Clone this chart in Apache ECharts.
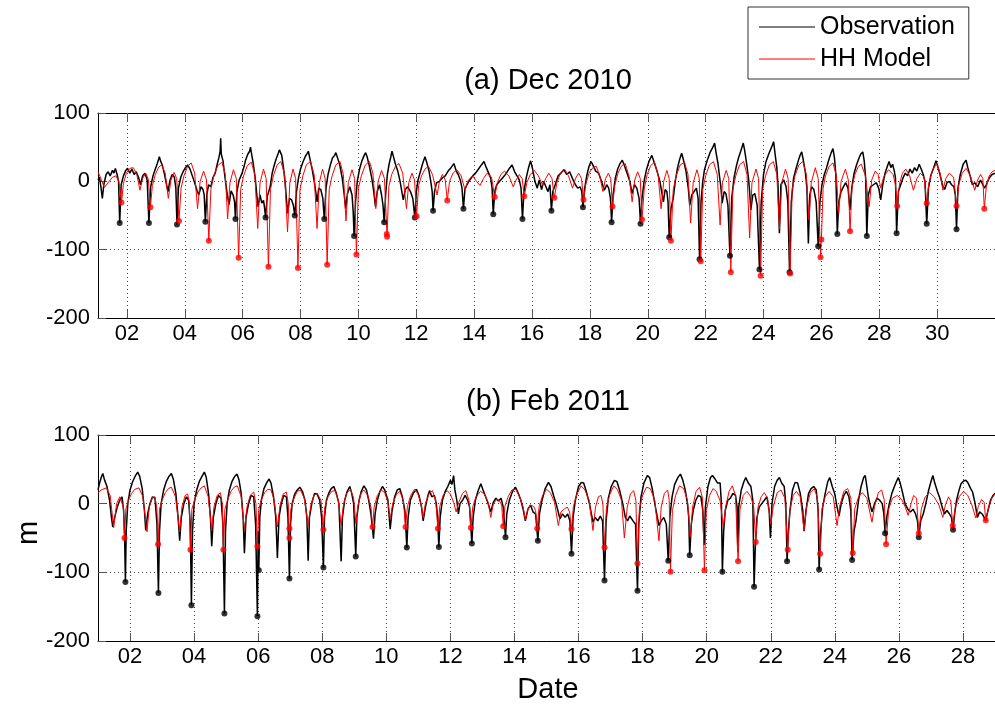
<!DOCTYPE html>
<html>
<head>
<meta charset="utf-8">
<script src="https://cdn.jsdelivr.net/npm/echarts@6/dist/echarts.min.js"></script>
<style>
html,body{margin:0;padding:0;background:#fff;}
#chart{width:995px;height:705px;}
</style>
</head>
<body>
<div id="chart"></div>
<script>
// ---------------- DATA ----------------
const decTicks = [2,4,6,8,10,12,14,16,18,20,22,24,26,28,30];
const febTicks = [2,4,6,8,10,12,14,16,18,20,22,24,26,28];
const yTicks = [-200,-100,0,100];

// Dec 2010 observation [day, m]
const decObs = [
[1.0,2],[1.05,6],[1.1,-8],[1.15,-25],[1.2,-5],[1.28,10],[1.35,14],[1.42,8],[1.5,16],[1.55,12],[1.6,19],[1.66,10],[1.71,0],[1.75,-61],
[1.8,-5],[1.88,8],[1.96,16],[2.02,19],[2.1,12],[2.17,18],[2.25,10],[2.32,14],[2.4,6],[2.47,-5],[2.54,8],[2.62,12],[2.7,2],[2.76,-61],
[2.82,-8],[2.9,8],[2.98,18],[3.05,26],[3.12,36],[3.16,30],[3.22,24],[3.3,10],[3.37,-5],[3.42,-15],[3.48,0],[3.56,10],[3.64,6],[3.69,-10],[3.73,-63],
[3.78,-10],[3.86,6],[3.94,14],[4.02,20],[4.1,24],[4.18,18],[4.26,8],[4.34,-2],[4.42,-13],[4.48,-20],[4.56,-8],[4.63,-12],[4.67,-20],[4.71,-59],
[4.76,-20],[4.82,-5],[4.9,-8],[4.97,5],[5.05,12],[5.12,25],[5.18,35],[5.22,44],[5.24,63],[5.26,40],[5.32,30],[5.4,2],[5.47,-20],[5.53,-34],[5.6,-14],[5.67,-20],[5.72,-30],[5.75,-55],
[5.8,-15],[5.88,2],[5.98,12],[6.05,22],[6.1,31],[6.18,40],[6.24,44],[6.27,50],[6.3,42],[6.37,25],[6.44,2],[6.5,-25],[6.53,-37],[6.6,-20],[6.66,-32],[6.72,-28],[6.76,-40],[6.79,-53],
[6.85,-22],[6.95,-8],[7.02,12],[7.08,22],[7.15,32],[7.22,40],[7.27,46],[7.3,48],[7.35,38],[7.41,20],[7.47,-3],[7.52,-30],[7.55,-47],[7.62,-25],[7.69,-27],[7.75,-35],[7.8,-50],
[7.86,-15],[7.93,5],[8.0,18],[8.08,28],[8.16,36],[8.23,41],[8.27,44],[8.32,34],[8.4,18],[8.48,-2],[8.54,-20],[8.57,-30],[8.63,-10],[8.7,-12],[8.77,-25],[8.82,-55],
[8.88,-10],[8.95,10],[9.03,24],[9.1,34],[9.18,38],[9.22,42],[9.27,40],[9.35,25],[9.44,5],[9.51,-20],[9.56,-40],[9.62,-18],[9.7,-8],[9.78,-20],[9.82,-45],[9.85,-80],
[9.9,-30],[9.96,0],[10.04,18],[10.12,30],[10.2,38],[10.25,42],[10.3,36],[10.38,22],[10.46,5],[10.53,-15],[10.59,-37],[10.65,-15],[10.73,-5],[10.8,-20],[10.85,-35],[10.89,-60],
[10.94,-20],[11.0,10],[11.06,25],[11.12,36],[11.16,44],[11.2,38],[11.28,25],[11.36,15],[11.44,0],[11.5,-15],[11.55,-27],[11.62,-12],[11.7,-8],[11.8,-15],[11.88,-25],[11.95,-53],
[12.0,-15],[12.06,2],[12.14,14],[12.22,26],[12.3,36],[12.36,28],[12.44,15],[12.5,0],[12.55,-15],[12.58,-43],
[12.63,-15],[12.7,-2],[12.8,0],[12.9,5],[13.0,8],[13.1,15],[13.2,20],[13.3,26],[13.38,15],[13.45,10],[13.52,2],[13.58,-10],[13.63,-40],
[13.68,-12],[13.75,-5],[13.85,2],[13.95,8],[14.05,12],[14.15,18],[14.25,24],[14.34,29],[14.42,20],[14.5,12],[14.57,5],[14.62,-10],[14.66,-48],
[14.71,-15],[14.78,-5],[14.88,0],[14.98,5],[15.08,10],[15.2,18],[15.31,24],[15.4,14],[15.48,8],[15.56,2],[15.62,-10],[15.67,-55],
[15.72,-15],[15.8,5],[15.88,20],[15.95,30],[16.02,18],[16.1,0],[16.18,-10],[16.25,2],[16.33,-12],[16.4,0],[16.48,-8],[16.55,-15],[16.62,-5],[16.67,-43],
[16.72,-15],[16.8,-5],[16.9,8],[17.0,12],[17.1,17],[17.2,10],[17.3,14],[17.4,4],[17.5,-5],[17.58,-10],[17.66,-8],[17.72,-15],[17.76,-38],
[17.82,-10],[17.9,10],[17.97,22],[18.04,29],[18.1,24],[18.2,15],[18.3,12],[18.4,0],[18.5,-13],[18.58,-5],[18.65,-10],[18.71,-25],[18.75,-60],
[18.8,-20],[18.88,5],[18.96,18],[19.04,26],[19.12,31],[19.2,22],[19.3,10],[19.38,0],[19.46,-18],[19.54,-5],[19.62,-10],[19.7,-25],[19.75,-62],
[19.8,-25],[19.88,2],[19.96,18],[20.05,30],[20.14,38],[20.22,28],[20.32,15],[20.42,0],[20.48,-15],[20.54,-30],[20.6,-12],[20.66,-15],[20.7,-30],[20.74,-82],
[20.8,-40],[20.88,-25],[20.95,0],[21.03,20],[21.1,32],[21.17,41],[21.23,32],[21.32,15],[21.4,-10],[21.45,-35],[21.52,-20],[21.6,-15],[21.68,-10],[21.74,-25],[21.79,-114],
[21.84,-30],[21.9,0],[21.96,17],[22.05,30],[22.15,42],[22.25,50],[22.31,56],[22.36,42],[22.43,25],[22.48,7],[22.53,-10],[22.57,-32],[22.64,-15],[22.7,-18],[22.77,-35],[22.84,-109],
[22.9,-25],[22.98,5],[23.06,22],[23.14,35],[23.22,45],[23.3,56],[23.35,45],[23.42,25],[23.48,5],[23.52,-15],[23.56,-42],[23.63,-20],[23.7,-18],[23.78,-35],[23.86,-129],
[23.92,-30],[24.0,10],[24.08,28],[24.18,40],[24.28,50],[24.35,58],[24.4,40],[24.46,20],[24.5,-5],[24.55,-76],[24.6,-5],[24.7,2],[24.78,-8],[24.84,-30],[24.9,-133],
[24.96,-30],[25.04,5],[25.12,18],[25.2,30],[25.28,40],[25.32,43],[25.38,30],[25.45,12],[25.5,-10],[25.55,-91],[25.6,-20],[25.66,-8],[25.74,-12],[25.82,-30],[25.89,-95],
[25.95,-30],[26.02,-5],[26.1,10],[26.18,20],[26.26,32],[26.34,42],[26.4,48],[26.45,35],[26.5,10],[26.55,-77],
[26.6,-30],[26.68,-15],[26.76,-8],[26.84,-2],[26.92,-10],[26.99,-42],[27.05,-10],[27.12,10],[27.2,22],[27.28,32],[27.36,40],[27.43,43],[27.48,30],[27.53,5],[27.57,-80],
[27.62,-20],[27.7,-8],[27.8,-5],[27.9,-2],[27.98,-10],[28.05,-27],[28.12,-5],[28.2,12],[28.28,22],[28.34,29],[28.4,20],[28.46,25],[28.52,15],[28.56,5],[28.6,-76],
[28.66,-15],[28.74,-5],[28.82,5],[28.9,12],[28.98,8],[29.06,18],[29.14,12],[29.22,20],[29.3,15],[29.38,25],[29.45,18],[29.52,10],[29.58,0],[29.64,-62],
[29.7,-10],[29.78,8],[29.88,20],[29.96,30],[30.02,22],[30.1,10],[30.18,-5],[30.26,-12],[30.34,-2],[30.42,0],[30.5,-5],[30.58,-8],[30.63,-20],[30.67,-70],
[30.72,-10],[30.8,10],[30.9,25],[31.0,31],[31.06,20],[31.14,8],[31.22,-5],[31.3,-2],[31.4,-8],[31.5,2],[31.58,-5],[31.64,-10],[31.7,-5],[31.8,5],[31.9,10],[32.0,12]
];

// Dec 2010 HH model
const decModel = [
[1.00,14],[1.08,6],[1.22,-9],[1.35,-2],[1.5,6],[1.62,8],[1.72,0],[1.81,-31],
[1.88,-3],[1.98,12],[2.1,19],[2.22,20],[2.34,10],[2.45,-13],[2.54,4],[2.65,12],[2.74,3],[2.81,-38],
[2.88,-6],[2.98,10],[3.1,21],[3.2,24],[3.32,12],[3.43,-25],[3.52,2],[3.63,13],[3.72,4],[3.80,-58],
[3.87,-10],[3.97,8],[4.1,22],[4.22,27],[4.34,12],[4.44,-40],[4.53,0],[4.65,15],[4.75,2],[4.83,-87],
[4.9,-12],[5.0,8],[5.14,23],[5.28,28],[5.4,10],[5.48,-55],[5.56,-2],[5.68,17],[5.78,4],[5.86,-112],
[5.93,-12],[6.03,8],[6.16,23],[6.3,28],[6.42,10],[6.52,-69],[6.6,-2],[6.72,18],[6.81,4],[6.89,-125],
[6.96,-12],[7.06,8],[7.19,24],[7.32,29],[7.45,10],[7.55,-74],[7.63,-2],[7.74,18],[7.83,4],[7.91,-127],
[7.98,-12],[8.08,8],[8.2,24],[8.34,29],[8.47,10],[8.57,-69],[8.65,-2],[8.76,18],[8.85,4],[8.92,-122],
[8.99,-12],[9.09,8],[9.22,24],[9.36,29],[9.48,10],[9.57,-58],[9.65,-2],[9.78,17],[9.87,4],[9.93,-107],
[10.0,-10],[10.1,8],[10.24,24],[10.38,29],[10.5,12],[10.6,-40],[10.68,0],[10.8,16],[10.9,4],[10.99,-81],
[11.05,-8],[11.15,10],[11.28,22],[11.4,26],[11.53,12],[11.66,-40],[11.74,-2],[11.85,12],[11.94,2],[12.01,-51],
[12.08,-6],[12.18,8],[12.3,18],[12.42,22],[12.56,10],[12.72,-20],[12.8,0],[12.9,10],[13.0,2],[13.07,-28],
[13.15,0],[13.27,12],[13.4,17],[13.55,8],[13.68,-12],[13.8,2],[13.95,8],[14.08,0],[14.2,-6],[14.32,4],[14.45,12],[14.6,6],[14.71,-23],
[14.8,-2],[14.92,10],[15.05,15],[15.2,8],[15.35,-8],[15.45,2],[15.56,10],[15.66,4],[15.73,-22],
[15.82,-2],[15.94,10],[16.08,16],[16.22,8],[16.37,-6],[16.47,4],[16.58,12],[16.69,4],[16.77,-24],
[16.86,-2],[16.98,12],[17.12,18],[17.26,8],[17.4,-10],[17.5,4],[17.61,12],[17.71,4],[17.78,-27],
[17.86,-4],[17.97,12],[18.1,20],[18.22,22],[18.34,8],[18.45,-15],[18.54,4],[18.64,12],[18.72,4],[18.78,-37],
[18.86,-6],[18.97,12],[19.1,23],[19.22,26],[19.35,8],[19.46,-30],[19.55,2],[19.65,14],[19.74,4],[19.80,-56],
[19.88,-10],[19.98,10],[20.1,23],[20.23,28],[20.36,8],[20.46,-40],[20.55,0],[20.66,16],[20.74,4],[20.80,-87],
[20.88,-12],[20.98,8],[21.12,24],[21.27,28],[21.39,10],[21.48,-61],[21.57,-2],[21.7,17],[21.78,4],[21.83,-117],
[21.9,-12],[22.0,8],[22.13,24],[22.27,29],[22.4,10],[22.5,-64],[22.58,-2],[22.71,16],[22.8,4],[22.87,-133],
[22.94,-12],[23.04,8],[23.17,24],[23.31,29],[23.43,10],[23.52,-83],[23.6,-2],[23.74,18],[23.83,4],[23.90,-138],
[23.97,-12],[24.07,8],[24.2,24],[24.34,29],[24.46,10],[24.55,-70],[24.63,-2],[24.76,18],[24.85,4],[24.92,-135],
[24.99,-12],[25.09,8],[25.22,24],[25.36,29],[25.48,10],[25.57,-57],[25.65,-2],[25.79,20],[25.89,4],[25.97,-111],
[26.0,-85],[26.06,-10],[26.14,8],[26.27,22],[26.4,27],[26.52,8],[26.6,-47],[26.68,0],[26.83,18],[26.93,2],[26.99,-73],
[27.06,-8],[27.16,10],[27.28,22],[27.38,25],[27.52,8],[27.65,-37],[27.74,2],[27.86,15],[27.96,10],[28.05,-10],[28.15,6],[28.32,17],[28.48,10],[28.56,-5],[28.62,-36],
[28.7,-4],[28.8,12],[28.92,18],[29.05,8],[29.18,-13],[29.3,4],[29.42,12],[29.55,6],[29.64,-32],
[29.72,-2],[29.84,16],[29.98,26],[30.1,12],[30.2,-13],[30.3,4],[30.42,12],[30.57,6],[30.67,-36],
[30.75,-4],[30.87,12],[31.0,19],[31.15,8],[31.3,-13],[31.4,2],[31.5,10],[31.58,4],[31.63,-40],[31.7,-8],[31.8,8],[31.9,14],[32.0,16]
];

// Dec daily minima
const decObsMin = [[1.75,-61],[2.76,-61],[3.73,-63],[4.71,-59],[5.75,-55],[6.79,-53],[7.80,-50],[8.82,-55],[9.85,-80],[10.89,-60],[11.95,-53],[12.58,-43],[13.63,-40],[14.66,-48],[15.67,-55],[16.67,-43],[17.76,-38],[18.75,-60],[19.75,-62],[20.74,-82],[21.79,-114],[22.84,-109],[23.86,-129],[24.90,-133],[25.89,-95],[26.55,-77],[27.57,-80],[28.60,-76],[29.64,-62],[30.67,-70]];
const decModelMin = [[1.81,-31],[2.81,-38],[3.80,-58],[4.83,-87],[5.86,-112],[6.89,-125],[7.91,-127],[8.92,-122],[9.93,-107],[10.98,-77],[10.99,-81],[12.01,-51],[13.07,-28],[14.71,-23],[15.73,-22],[16.77,-24],[17.78,-27],[18.78,-37],[19.80,-56],[20.80,-87],[21.83,-117],[22.87,-133],[23.90,-138],[24.92,-135],[25.97,-111],[26.0,-85],[26.99,-73],[28.62,-36],[29.64,-32],[30.67,-36],[31.63,-40]];

// Feb 2011 observation
const febObs = [
[1.0,20],[1.05,30],[1.1,38],[1.15,44],[1.2,35],[1.28,25],[1.36,5],[1.42,-20],[1.46,-34],[1.52,-20],[1.6,-5],[1.68,5],[1.75,10],[1.8,-10],[1.83,-45],[1.856,-114],
[1.88,-40],[1.93,0],[2.0,20],[2.08,32],[2.16,40],[2.24,46],[2.3,40],[2.38,22],[2.45,-10],[2.49,-39],[2.55,-15],[2.62,0],[2.7,10],[2.78,8],[2.84,-30],[2.886,-130],
[2.92,-40],[2.97,0],[3.05,20],[3.13,32],[3.22,40],[3.29,44],[3.35,36],[3.43,15],[3.5,-20],[3.55,-54],[3.6,-20],[3.68,0],[3.76,10],[3.83,5],[3.88,-30],[3.916,-148],
[3.95,-40],[4.0,0],[4.08,20],[4.16,32],[4.25,40],[4.32,46],[4.38,38],[4.45,15],[4.51,-20],[4.55,-62],[4.6,-20],[4.68,0],[4.76,12],[4.84,8],[4.9,-30],[4.946,-160],
[4.98,-40],[5.03,0],[5.1,20],[5.18,32],[5.27,40],[5.34,43],[5.4,35],[5.47,15],[5.53,-20],[5.57,-72],[5.62,-20],[5.7,0],[5.78,12],[5.86,10],[5.92,-30],[5.976,-164],
[6.0,-40],[6.02,-97],[6.05,-20],[6.1,5],[6.18,22],[6.26,30],[6.34,36],[6.4,30],[6.48,10],[6.55,-20],[6.6,-79],[6.65,-20],[6.72,0],[6.8,12],[6.88,10],[6.93,-20],[6.975,-109],
[7.01,-30],[7.06,0],[7.14,14],[7.22,20],[7.3,24],[7.38,18],[7.46,5],[7.52,-20],[7.56,-83],[7.6,-20],[7.68,2],[7.76,15],[7.84,14],[7.92,5],[7.98,-20],[8.036,-93],
[8.07,-20],[8.13,5],[8.2,15],[8.28,22],[8.36,25],[8.44,15],[8.52,0],[8.59,-84],[8.63,-20],[8.7,5],[8.78,18],[8.86,25],[8.92,15],[8.98,0],[9.046,-77],
[9.08,-20],[9.15,5],[9.22,18],[9.3,26],[9.38,20],[9.45,5],[9.52,-15],[9.6,-51],[9.65,-15],[9.72,5],[9.8,18],[9.88,25],[9.95,20],[10.05,5],[10.12,-37],[10.18,-10],[10.26,10],[10.34,20],[10.42,22],[10.5,10],[10.58,-10],[10.64,-64],
[10.68,-20],[10.75,5],[10.84,15],[10.94,21],[11.02,12],[11.1,-5],[11.15,-25],[11.22,-5],[11.3,12],[11.35,19],[11.42,10],[11.5,12],[11.56,0],[11.6,-20],[11.64,-63],
[11.68,-20],[11.75,5],[11.84,18],[11.92,25],[12.0,34],[12.05,28],[12.1,41],[12.14,20],[12.2,5],[12.25,-15],[12.3,0],[12.38,5],[12.46,12],[12.54,5],[12.6,-5],[12.67,-58],
[12.71,-20],[12.78,5],[12.86,18],[12.95,29],[13.02,20],[13.1,10],[13.18,0],[13.26,-12],[13.34,2],[13.42,8],[13.5,4],[13.58,8],[13.65,-5],[13.72,-49],
[13.76,-15],[13.84,5],[13.94,18],[14.03,24],[14.12,15],[14.2,5],[14.28,-10],[14.34,-25],[14.42,-8],[14.5,-2],[14.58,-12],[14.66,-15],[14.73,-54],
[14.78,-15],[14.86,5],[14.96,22],[15.06,31],[15.14,25],[15.22,12],[15.3,0],[15.42,-22],[15.5,-15],[15.58,-20],[15.66,-15],[15.73,-25],[15.78,-73],
[15.83,-20],[15.9,5],[16.0,25],[16.09,31],[16.16,30],[16.24,18],[16.34,0],[16.45,-27],[16.52,-20],[16.6,-25],[16.68,-18],[16.75,-25],[16.81,-112],
[16.86,-25],[16.93,8],[17.02,25],[17.12,34],[17.2,32],[17.28,20],[17.38,0],[17.46,-20],[17.53,-25],[17.6,-18],[17.7,-25],[17.78,-30],[17.84,-127],
[17.88,-30],[17.95,10],[18.04,30],[18.15,41],[18.22,38],[18.3,22],[18.4,-5],[18.51,-32],[18.58,-25],[18.66,-20],[18.74,-30],[18.8,-83],
[18.85,-20],[18.92,10],[19.0,28],[19.1,38],[19.18,43],[19.25,35],[19.33,20],[19.4,0],[19.44,-20],[19.47,-75],
[19.52,-30],[19.58,-10],[19.66,5],[19.74,12],[19.82,10],[19.88,-10],[19.92,-60],[19.96,-5],[20.04,25],[20.12,38],[20.18,41],[20.26,36],[20.34,30],[20.42,30],[20.46,0],[20.49,-99],
[20.53,-40],[20.58,-10],[20.66,5],[20.74,8],[20.82,15],[20.9,12],[20.95,-5],[20.97,-70],[21.0,-5],[21.08,20],[21.16,32],[21.22,38],[21.3,30],[21.38,25],[21.44,5],[21.48,-121],
[21.52,-60],[21.57,-20],[21.64,-5],[21.72,0],[21.8,5],[21.88,10],[21.95,-10],[21.99,-50],[22.04,0],[22.12,25],[22.2,34],[22.27,38],[22.34,30],[22.42,25],[22.47,0],[22.51,-84],
[22.55,-40],[22.6,-10],[22.68,20],[22.76,31],[22.84,30],[22.92,15],[23.0,-10],[23.04,-40],[23.1,-10],[23.18,15],[23.26,22],[23.34,25],[23.42,20],[23.48,-10],[23.51,-96],
[23.56,-40],[23.62,-5],[23.7,15],[23.78,32],[23.84,38],[23.92,25],[24.0,14],[24.07,-5],[24.13,-18],[24.2,0],[24.28,12],[24.36,18],[24.44,10],[24.5,-10],[24.54,-82],
[24.6,-40],[24.66,-25],[24.74,5],[24.82,25],[24.9,38],[24.95,41],[25.0,25],[25.05,9],[25.12,-5],[25.16,-12],[25.24,0],[25.32,8],[25.4,5],[25.48,0],[25.53,-15],[25.57,-43],
[25.62,-20],[25.7,0],[25.78,15],[25.86,25],[25.93,33],[25.98,38],[26.04,30],[26.12,15],[26.19,0],[26.28,-8],[26.36,-12],[26.44,-8],[26.52,-15],[26.58,-25],[26.62,-49],
[26.68,-25],[26.76,-15],[26.84,0],[26.92,18],[27.0,32],[27.06,41],[27.12,30],[27.2,18],[27.27,9],[27.35,-5],[27.42,-15],[27.5,-10],[27.58,-15],[27.64,-20],[27.69,-38],
[27.74,-15],[27.8,5],[27.88,20],[27.94,29],[28.02,33],[28.09,34],[28.16,30],[28.24,22],[28.3,17],[28.38,0],[28.45,-20],[28.52,-12],[28.6,-15],[28.66,-20],[28.71,-25],[28.78,-10],[28.86,5],[28.94,12],[29.0,15]
];

// Feb 2011 HH model
const febModel = [
[1.0,16],[1.1,20],[1.26,23],[1.38,12],[1.49,-35],[1.58,0],[1.68,10],[1.74,11],[1.79,-5],[1.825,-50],
[1.87,-8],[1.95,5],[2.05,15],[2.15,21],[2.28,23],[2.4,10],[2.53,-41],[2.6,-5],[2.7,9],[2.78,10],[2.84,-8],[2.876,-59],
[2.92,-8],[3.0,5],[3.1,16],[3.2,22],[3.29,24],[3.42,10],[3.55,-41],[3.62,-5],[3.72,12],[3.8,14],[3.85,0],[3.885,-67],
[3.93,-8],[4.02,6],[4.12,17],[4.22,23],[4.32,26],[4.44,10],[4.55,-39],[4.62,-5],[4.72,12],[4.82,16],[4.88,0],[4.915,-67],
[4.96,-8],[5.05,6],[5.15,18],[5.25,24],[5.35,26],[5.47,10],[5.57,-38],[5.65,-5],[5.75,12],[5.86,17],[5.93,0],[5.976,-62],
[6.02,-8],[6.1,6],[6.2,16],[6.3,21],[6.4,20],[6.5,5],[6.6,-34],[6.68,-3],[6.78,14],[6.88,17],[6.94,0],[6.975,-50],
[7.02,-8],[7.12,8],[7.22,18],[7.32,20],[7.44,8],[7.56,-32],[7.64,-3],[7.74,12],[7.84,15],[7.96,5],[8.036,-38],
[8.08,-5],[8.18,10],[8.3,18],[8.4,19],[8.5,5],[8.59,-32],[8.66,-2],[8.76,15],[8.88,21],[8.98,8],[9.05,-29],[9.12,-2],[9.2,14],[9.3,20],[9.42,12],[9.52,-5],[9.571,-34],
[9.62,-5],[9.72,12],[9.84,20],[9.95,16],[10.05,2],[10.12,-22],[10.2,0],[10.32,14],[10.42,18],[10.53,5],[10.6,-34],
[10.66,-4],[10.76,12],[10.88,21],[10.98,15],[11.08,0],[11.15,-21],[11.22,0],[11.34,15],[11.44,19],[11.54,5],[11.61,-36],
[11.67,-4],[11.77,12],[11.9,19],[12.0,14],[12.1,2],[12.18,-12],[12.26,2],[12.38,15],[12.48,19],[12.58,5],[12.64,-35],
[12.7,-4],[12.8,10],[12.94,18],[13.06,14],[13.18,2],[13.26,-20],[13.34,0],[13.44,6],[13.52,5],[13.6,-2],[13.65,-33],
[13.7,-4],[13.8,10],[13.92,20],[14.04,21],[14.16,10],[14.27,-5],[14.34,-24],[14.42,-8],[14.5,-2],[14.6,-4],[14.66,-10],[14.71,-36],
[14.77,-4],[14.88,12],[15.0,21],[15.12,16],[15.25,2],[15.37,-32],[15.45,-12],[15.55,-8],[15.65,-5],[15.72,-12],[15.78,-37],
[15.84,-4],[15.95,14],[16.08,26],[16.2,20],[16.33,5],[16.45,-39],[16.53,-5],[16.62,10],[16.7,12],[16.76,0],[16.81,-64],
[16.87,-6],[16.98,14],[17.1,26],[17.22,20],[17.34,5],[17.43,-50],[17.52,-5],[17.62,14],[17.72,19],[17.79,5],[17.84,-87],
[17.9,-8],[18.0,12],[18.12,24],[18.24,22],[18.38,5],[18.51,-54],[18.58,-5],[18.68,15],[18.78,20],[18.83,5],[18.87,-99],
[18.93,-10],[19.03,12],[19.15,26],[19.28,22],[19.4,5],[19.49,-49],[19.56,-5],[19.67,18],[19.78,24],[19.87,8],[19.93,-97],
[19.99,-10],[20.09,12],[20.2,22],[20.3,18],[20.42,4],[20.52,-34],[20.6,-3],[20.7,18],[20.8,26],[20.9,12],[20.98,-84],
[21.04,-8],[21.14,12],[21.26,18],[21.38,10],[21.47,-5],[21.53,-56],
[21.6,-6],[21.7,10],[21.8,16],[21.9,8],[22.0,-30],[22.08,-4],[22.2,16],[22.32,20],[22.44,8],[22.53,-67],
[22.6,-8],[22.7,12],[22.8,18],[22.92,10],[23.04,-39],[23.12,-4],[23.24,16],[23.36,22],[23.46,8],[23.54,-73],
[23.6,-8],[23.7,10],[23.82,18],[23.95,10],[24.07,-32],[24.15,-4],[24.28,18],[24.4,22],[24.5,8],[24.56,-72],
[24.62,-8],[24.74,10],[24.86,16],[25.0,8],[25.16,-27],[25.24,-4],[25.36,16],[25.46,20],[25.54,6],[25.6,-59],
[25.68,-8],[25.8,8],[25.95,12],[26.1,5],[26.2,-5],[26.29,-17],[26.38,0],[26.46,12],[26.55,8],[26.62,-43],
[26.7,-8],[26.82,10],[26.96,16],[27.1,10],[27.25,-2],[27.37,-20],[27.45,-2],[27.55,10],[27.62,4],[27.68,-32],
[27.76,-6],[27.88,10],[28.02,18],[28.15,12],[28.28,-2],[28.4,-21],[28.48,-4],[28.58,6],[28.66,2],[28.71,-24],[28.8,-6],[28.9,8],[29.0,14]
];

const febObsMin = [[1.856,-114],[2.886,-130],[3.916,-148],[4.946,-160],[5.976,-164],[6.02,-97],[6.975,-109],[8.036,-93],[9.046,-77],[10.64,-64],[11.64,-63],[12.67,-58],[13.72,-49],[14.73,-54],[15.78,-73],[16.81,-112],[17.84,-127],[18.80,-83],[19.47,-75],[20.49,-99],[21.48,-121],[22.51,-84],[23.51,-96],[24.54,-82],[25.57,-43],[26.62,-49],[27.69,-38]];
const febModelMin = [[1.825,-50],[2.876,-59],[3.885,-67],[4.915,-67],[5.976,-62],[6.975,-36],[6.975,-50],[8.036,-38],[9.571,-34],[10.60,-34],[11.61,-36],[12.64,-35],[13.65,-33],[14.71,-36],[15.78,-37],[16.81,-64],[17.84,-87],[18.87,-99],[19.93,-97],[20.98,-84],[21.53,-56],[22.53,-67],[23.54,-73],[24.56,-72],[25.60,-59],[26.62,-43],[27.68,-32],[28.71,-24]];

// ---------------- CHART ----------------
const FONT = '"Liberation Sans", Arial, Helvetica, sans-serif';
const chart = echarts.init(document.getElementById('chart'), null, {renderer:'canvas'});
const pad2 = v => (v < 10 ? '0' : '') + v;
const gridDefs = [
  {left:98, top:113, width:906, height:205},
  {left:98, top:435, width:906, height:206}
];
const dotted = {show:true, lineStyle:{color:'#444', width:1, type:[1,3]}};

function xAxes(gi, maxDay, ticks) {
  return [
    {gridIndex:gi, type:'value', position:'bottom', min:1, max:maxDay,
     axisLine:{show:true, onZero:false, lineStyle:{color:'#000', width:1}},
     axisTick:{show:true, inside:true, length:8, customValues:ticks, lineStyle:{color:'#555'}},
     axisLabel:{show:true, customValues:ticks, formatter:pad2, color:'#000', fontSize:22, fontFamily:FONT, margin:5},
     splitLine:dotted},
    {gridIndex:gi, type:'value', position:'top', min:1, max:maxDay,
     axisLine:{show:true, onZero:false, lineStyle:{color:'#000', width:1}},
     axisTick:{show:true, inside:true, length:8, customValues:ticks, lineStyle:{color:'#555'}},
     axisLabel:{show:false}, splitLine:{show:false}}
  ];
}
function yAxis(gi) {
  return {gridIndex:gi, type:'value', min:-200, max:100, interval:100,
    axisLine:{show:true, onZero:false, lineStyle:{color:'#000', width:1}},
    axisTick:{show:true, inside:true, length:8, lineStyle:{color:'#555'}},
    axisLabel:{color:'#000', fontSize:22, fontFamily:FONT, margin:8},
    splitLine:dotted};
}

function lineSeries(name, data, xi, yi, color, w, z) {
  return {name, type:'line', data, xAxisIndex:xi, yAxisIndex:yi, showSymbol:false, symbol:'none',
    lineStyle:{color, width:w}, itemStyle:{color}, z, clip:true, silent:true};
}
function dotSeries(name, data, xi, yi, color, z) {
  return {name, type:'scatter', data, xAxisIndex:xi, yAxisIndex:yi, symbol:'circle', symbolSize:6,
    itemStyle:{color}, z, silent:true};
}

const option = {
  animation:false,
  backgroundColor:'#fff',
  grid:gridDefs,
  xAxis:[...xAxes(0, 32, decTicks), ...xAxes(1, 29, febTicks)],
  yAxis:[yAxis(0), yAxis(1)],
  legend:{
    orient:'vertical', left:748, top:7, padding:[7,14,7,11], itemGap:6,
    itemWidth:56, itemHeight:1, selectedMode:false,
    borderColor:'#333', borderWidth:1, backgroundColor:'#fff',
    textStyle:{fontSize:25, fontFamily:FONT, color:'#000', lineHeight:26},
    data:[{name:'Observation', icon:'rect'}, {name:'HH Model', icon:'rect'}]
  },
  graphic:[
    {type:'text', style:{text:'(a) Dec 2010', font:'29px ' + FONT, fill:'#000', x:548, y:81, textAlign:'center', textVerticalAlign:'middle'}},
    {type:'text', style:{text:'(b) Feb 2011', font:'29px ' + FONT, fill:'#000', x:548, y:402, textAlign:'center', textVerticalAlign:'middle'}},
    {type:'text', style:{text:'Date', font:'29px ' + FONT, fill:'#000', x:548, y:690, textAlign:'center', textVerticalAlign:'middle'}},
    {type:'text', x:29, y:533, rotation:Math.PI/2, style:{text:'m', font:'29px ' + FONT, fill:'#000', x:0, y:0, textAlign:'center', textVerticalAlign:'middle'}}
  ],
  series:[
    lineSeries('Observation', decObs, 0, 0, '#000', 1.5, 2),
    lineSeries('HH Model', decModel, 0, 0, '#ff0000', 1, 3),
    dotSeries('Observation', decObsMin, 0, 0, '#000', 4),
    dotSeries('HH Model', decModelMin, 0, 0, '#ff0000', 5),
    lineSeries('Observation', febObs, 2, 1, '#000', 1.5, 2),
    lineSeries('HH Model', febModel, 2, 1, '#ff0000', 1, 3),
    dotSeries('Observation', febObsMin, 2, 1, '#000', 4),
    dotSeries('HH Model', febModelMin, 2, 1, '#ff0000', 5)
  ]
};
chart.setOption(option);
</script>
</body>
</html>
